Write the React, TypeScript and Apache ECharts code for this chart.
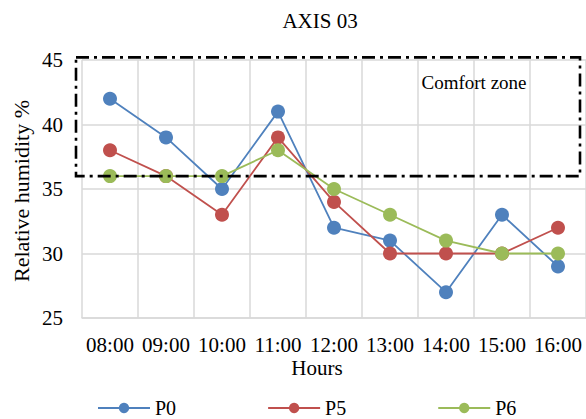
import React, { useEffect, useRef } from "react";
import * as echarts from "echarts";

const hours = ["08:00", "09:00", "10:00", "11:00", "12:00", "13:00", "14:00", "15:00", "16:00"];
const p0 = [42, 39, 35, 41, 32, 31, 27, 33, 29];
const p5 = [38, 36, 33, 39, 34, 30, 30, 30, 32];
const p6 = [36, 36, 36, 38, 35, 33, 31, 30, 30];
const comfortLow = 36;
const comfortHigh = 45.2;
const yTicks = { min: 25, max: 45, interval: 5 };

const FONT = "'Liberation Serif', 'Times New Roman', serif";

export default function App() {
  const ref = useRef<HTMLDivElement>(null);
  useEffect(() => {
    if (!ref.current) return;
    const chart = echarts.init(ref.current, null, { renderer: "svg" });
    const mk = (name: string, data: number[], color: string) => ({
      name,
      type: "line",
      data,
      symbol: "circle",
      symbolSize: 14,
      color,
      lineStyle: { width: 1.8, color },
      itemStyle: { color },
    });
    chart.setOption({
      animation: false,
      textStyle: { fontFamily: FONT, color: "#000" },
      title: {
        text: "AXIS 03",
        left: 315,
        top: 5,
        textAlign: "center",
        textStyle: { fontFamily: FONT, fontSize: 21, fontWeight: "normal", color: "#000" },
      },
      grid: { left: 82, right: 0, top: 60, bottom: 101, containLabel: false },
      xAxis: {
        type: "category",
        data: hours,
        boundaryGap: true,
        axisLine: { lineStyle: { color: "#d9d9d9", width: 1.5 } },
        axisTick: { show: false },
        splitLine: { show: true, lineStyle: { color: "#d9d9d9", width: 1.5 } },
        axisLabel: { fontFamily: FONT, fontSize: 21, color: "#000", margin: 16, interval: 0 },
      },
      yAxis: {
        type: "value",
        min: yTicks.min,
        max: yTicks.max,
        interval: yTicks.interval,
        axisLine: { show: false },
        axisTick: { show: false },
        splitLine: { lineStyle: { color: "#d9d9d9", width: 1.5 } },
        axisLabel: { fontFamily: FONT, fontSize: 21, color: "#000", margin: 19 },
      },
      legend: {
        top: 398,
        left: 97,
        padding: 0,
        itemWidth: 52,
        itemHeight: 13,
        itemGap: 91,
        textStyle: { fontFamily: FONT, fontSize: 20, color: "#000", lineHeight: 20 },
        data: ["P0", "P5", "P6"],
      },
      series: [mk("P0", p0, "#4f81bd"), mk("P5", p5, "#c0504d"), mk("P6", p6, "#9bbb59")],
    });

    const top = chart.convertToPixel({ yAxisIndex: 0 }, comfortHigh) as number;
    const bottom = chart.convertToPixel({ yAxisIndex: 0 }, comfortLow) as number;
    const gridRect = (chart as any).getModel().getComponent("grid").coordinateSystem.getRect();
    const x0 = gridRect.x - 6;
    const x1 = gridRect.x + gridRect.width - 6;
    chart.setOption({
      graphic: [
        {
          type: "rect",
          shape: { x: x0, y: top, width: x1 - x0, height: bottom - top },
          style: { fill: "none", stroke: "#000", lineWidth: 2.6, lineDash: [13, 5, 3, 5] },
          z: 100,
        },
        {
          type: "text",
          x: 474,
          y: 82,
          style: { text: "Comfort zone", fontFamily: FONT, fontSize: 19, fill: "#000", textAlign: "center", textVerticalAlign: "middle" },
          z: 100,
        },
        {
          type: "text",
          x: 21,
          y: 191,
          rotation: Math.PI / 2,
          style: { text: "Relative humidity %", fontFamily: FONT, fontSize: 22, fill: "#000", textAlign: "center", textVerticalAlign: "middle" },
        },
        {
          type: "text",
          x: 317,
          y: 368,
          style: { text: "Hours", fontFamily: FONT, fontSize: 21, fill: "#000", textAlign: "center", textVerticalAlign: "middle" },
        },
      ],
    });
    return () => chart.dispose();
  }, []);
  return <div ref={ref} style={{ width: 586, height: 419, position: "absolute", left: 0, top: 0 }} />;
}
